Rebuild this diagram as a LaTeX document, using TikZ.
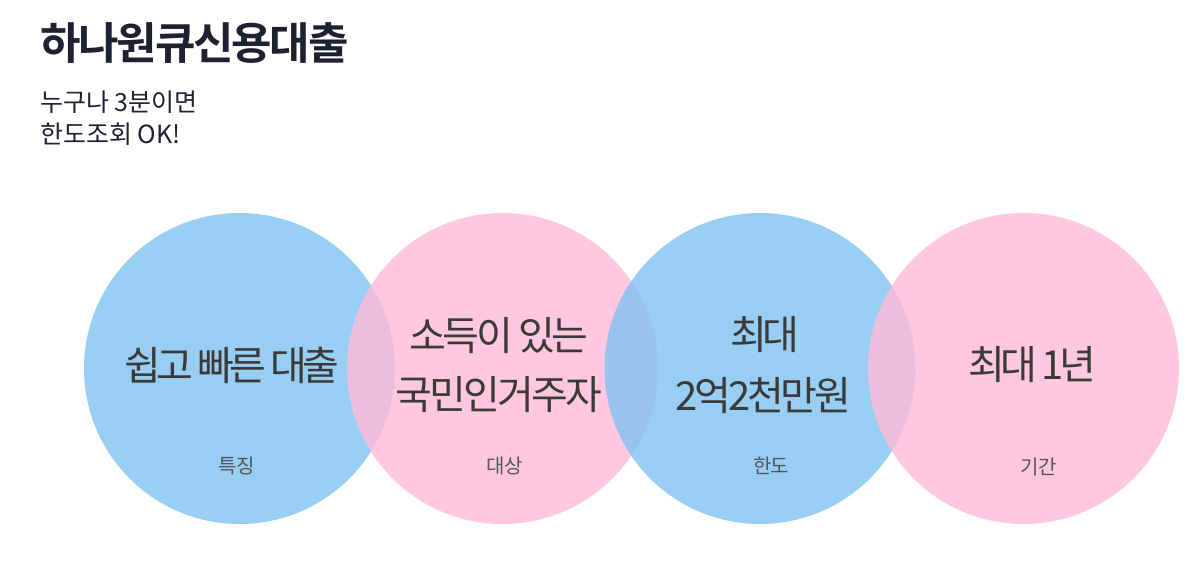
\documentclass[tikz,border=0pt]{standalone}
\usepackage{fontspec}
\setmainfont{Noto Sans CJK KR}
\newfontfamily\titlefont{Noto Sans CJK KR Bold}[LetterSpace=-5]
\newfontfamily\bigfont{Noto Sans CJK KR}[LetterSpace=-12]
\newfontfamily\subfont{Noto Sans CJK KR}[LetterSpace=0]
\newfontfamily\labfont{Noto Sans CJK KR}[LetterSpace=-5]
\definecolor{bluec}{RGB}{128,194,242}
\definecolor{pinkc}{RGB}{255,187,214}
\definecolor{titlec}{RGB}{31,33,51}
\definecolor{textc}{RGB}{58,58,58}
\definecolor{labc}{RGB}{85,85,85}
\tikzset{
  disc/.style={circle, minimum size=311pt, inner sep=0pt, draw=none, fill opacity=0.8},
  bluedisc/.style={disc, fill=bluec},
  pinkdisc/.style={disc, fill=pinkc},
  bigtext/.style={inner sep=0pt, text=textc, font=\bigfont\fontsize{40}{44}\selectfont},
  labtext/.style={inner sep=0pt, text=labc, font=\labfont\fontsize{20}{22}\selectfont},
  subtext/.style={inner sep=0pt, anchor=west, text=titlec, font=\subfont\fontsize{25}{28}\selectfont},
}
\begin{document}
\begin{tikzpicture}[x=1pt,y=-1pt]
\useasboundingbox[fill=white] (0,0) rectangle (1200,587);
\node[inner sep=0pt, anchor=west, text=titlec, font=\titlefont\fontsize{44}{48}\selectfont] (title) at (40,43) {하나원큐신용대출};
\node[subtext] (sub1) at (40,102.5) {누구나 3분이면};
\node[subtext] (sub2) at (40,134.5) {한도조회 OK!};
\node[bluedisc] (c1) at (239.5,368.5) {};
\node[pinkdisc] (c2) at (502.5,368.5) {};
\node[bluedisc] (c3) at (760,368.5) {};
\node[pinkdisc] (c4) at (1023.5,368.5) {};
\node[bigtext] (t1) at (231.5,365) {쉽고 빠른 대출};
\node[bigtext] (t2a) at (499,335.5) {\addfontfeature{LetterSpace=-9}소득이 있는};
\node[bigtext] (t2b) at (498.5,395) {\addfontfeature{LetterSpace=-7}국민인거주자};
\node[bigtext] (t3a) at (765,334.5) {최대};
\node[bigtext] (t3b) at (763.5,395.5) {\addfontfeature{LetterSpace=-8}2억2천만원};
\node[bigtext] (t4) at (1032.5,365) {최대 1년};
\node[labtext] (l1) at (236.5,466) {특징};
\node[labtext] (l2) at (504.5,466) {대상};
\node[labtext] (l3) at (771,466) {한도};
\node[labtext] (l4) at (1038.5,467) {기간};
\end{tikzpicture}
\end{document}
